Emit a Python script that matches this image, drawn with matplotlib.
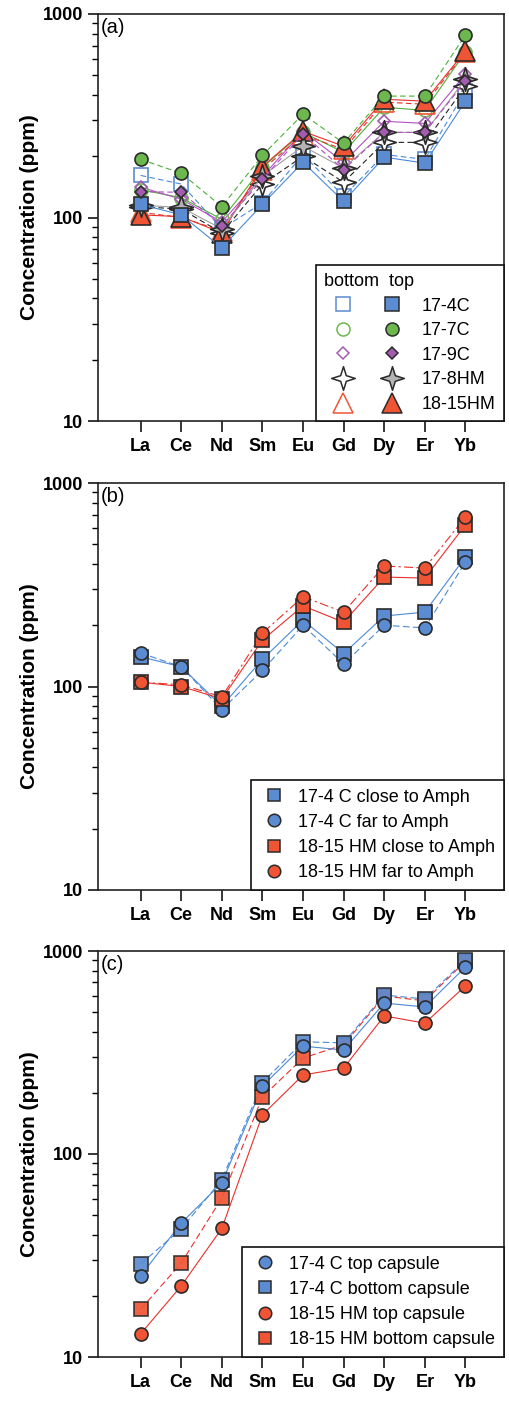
import matplotlib
matplotlib.use("Agg")
import matplotlib.pyplot as plt
from matplotlib.path import Path
from matplotlib.lines import Line2D
from matplotlib.legend_handler import HandlerTuple
from matplotlib.ticker import LogLocator, NullFormatter, FixedLocator, FuncFormatter

plt.rcParams["font.family"] = ["Liberation Sans", "DejaVu Sans"]

elements = ["La", "Ce", "Nd", "Sm", "Eu", "Gd", "Dy", "Er", "Yb"]

# ---- panel (a): bottom vs top of capsule for each run ----
c17_4_bottom = [161, 146, 88, 118, 204, 127, 204, 193, 418]
c17_4_top = [116, 103, 71, 116, 187, 120, 198, 185, 373]
c17_7_bottom = [137, 125, 98, 176, 262, 209, 348, 336, 650]
c17_7_top = [193, 165, 113, 202, 322, 232, 395, 395, 788]
c17_9_bottom = [141, 123, 95, 159, 265, 187, 297, 290, 506]
c17_9_top = [134, 133, 91, 154, 257, 172, 262, 262, 468]
hm17_8_bottom = [113, 110, 84, 146, 200, 149, 234, 234, 441]
hm17_8_top = [115, 112, 88, 160, 224, 175, 262, 262, 478]
hm18_15_bottom = [106, 100, 86, 172, 255, 216, 369, 360, 650]
hm18_15_top = [103, 101, 84, 178, 265, 224, 381, 373, 658]
runs_a = ["17-4C", "17-7C", "17-9C", "17-8HM", "18-15HM"]

# ---- panel (b): distance to amphibole ----
c17_4_close = [140, 125, 80, 136, 212, 145, 222, 232, 433]
c17_4_far = [146, 125, 77, 120, 200, 129, 200, 194, 409]
hm18_15_close = [105, 100, 87, 169, 249, 207, 345, 341, 622]
hm18_15_far = [105, 102, 89, 183, 276, 232, 391, 382, 681]
labels_b = ["17-4 C close to Amph", "17-4 C far to Amph",
            "18-15 HM close to Amph", "18-15 HM far to Amph"]

# ---- panel (c): top vs bottom capsule ----
c17_4_top_caps = [25.1, 45.7, 72, 216, 340, 325, 554, 530, 834]
c17_4_bottom_caps = [28.7, 42.8, 74.5, 225, 357, 353, 607, 580, 903]
hm18_15_top_caps = [13.0, 22.4, 43, 156, 245, 265, 479, 441, 673]
hm18_15_bottom_caps = [17.2, 29.0, 60.7, 191, 297, 345, 600, 568, 890]
labels_c = ["17-4 C top capsule", "17-4 C bottom capsule",
            "18-15 HM top capsule", "18-15 HM bottom capsule"]

# colours
BLUE = "#5b8bd0"
BLUE_L = "#4a8ad8"
GREEN = "#6cb84e"
GREEN_L = "#4db03c"
PURPLE = "#a45cb0"
PURPLE_L = "#b24fc4"
GREY = "#b4b4b4"
RED = "#ef5535"
RED_L = "#e8302a"
EDGE = "#2b2b2b"

# four-pointed star with concave sides
_r = 0.24
_star_pts = [(0, 1), (_r, _r), (1, 0), (_r, -_r), (0, -1), (-_r, -_r), (-1, 0), (-_r, _r), (0, 1)]
STAR = Path(_star_pts, closed=True)

FS = 13
x = list(range(len(elements)))


def style_axes(ax, tag):
    ax.set_yscale("log")
    ax.set_ylim(10, 1000)
    ax.set_xlim(-1.05, 8.95)
    ax.xaxis.set_major_locator(FixedLocator(x))
    ax.set_xticklabels(elements, fontsize=FS, fontweight="bold")
    ax.yaxis.set_major_locator(FixedLocator([10, 100, 1000]))
    ax.yaxis.set_major_formatter(FuncFormatter(lambda v, p: f"{int(round(v))}"))
    ax.yaxis.set_minor_locator(LogLocator(base=10, subs=range(2, 10)))
    ax.yaxis.set_minor_formatter(NullFormatter())
    for lab in ax.get_yticklabels():
        lab.set_fontweight("bold")
        lab.set_fontsize(FS)
    ax.tick_params(axis="x", which="major", length=8, width=1.1, pad=4, direction="out")
    ax.tick_params(axis="y", which="major", length=7.5, width=1.1, pad=3, direction="out")
    ax.tick_params(axis="y", which="minor", length=4, width=1.0, direction="out")
    for s in ax.spines.values():
        s.set_linewidth(1.2)
        s.set_color("#222222")
    ax.set_ylabel("Concentration (ppm)", fontsize=15, fontweight="bold")
    ax.yaxis.set_label_coords(-0.145, 0.5)
    ax.text(0.006, 0.99, tag, transform=ax.transAxes, fontsize=14.5, ha="left", va="top")


def legend_box(leg):
    fr = leg.get_frame()
    fr.set_edgecolor("#111111")
    fr.set_linewidth(1.2)
    fr.set_boxstyle("square", pad=0)
    fr.set_alpha(1)


fig = plt.figure(figsize=(5.1, 14.02), dpi=100)
H = 1402.0
W = 510.0
left = 98 / W
width = (504 - 98) / W


def axes_at(top_px, bottom_px):
    return fig.add_axes([left, 1 - bottom_px / H, width, (bottom_px - top_px) / H])


# ======================= (a) =======================
ax = axes_at(14, 421)
style_axes(ax, "(a)")
lw = 0.8
mew = 1.2

series_a = [
    # values, marker, size, face, edge, line colour, linestyle, zorder
    (c17_4_bottom, "s", 9.4, "none", BLUE, BLUE_L, (0, (5, 3)), 3),
    (c17_7_bottom, "o", 9.4, "none", GREEN, GREEN_L, "-", 3),
    (c17_9_bottom, "D", 6.6, "none", PURPLE, PURPLE_L, "-", 3),
    (hm17_8_bottom, STAR, 17, "white", EDGE, "#222222", (0, (5, 3)), 4),
    (hm18_15_bottom, "^", 15, "none", RED, RED_L, (0, (5, 3)), 3),
    (hm18_15_top, "^", 15, RED, EDGE, RED_L, "-", 5),
    (hm17_8_top, STAR, 17, GREY, EDGE, "#a0a0a0", "-", 5),
    (c17_4_top, "s", 9.4, BLUE, EDGE, BLUE_L, "-", 6),
    (c17_7_top, "o", 9.4, GREEN, EDGE, GREEN_L, (0, (5, 3)), 6),
    (c17_9_top, "D", 6.6, PURPLE, EDGE, PURPLE_L, (0, (5, 3)), 7),
]
for vals, mk, ms, fc, ec, lc, ls, z in series_a:
    ax.plot(x, vals, color=lc, lw=lw, ls=ls, zorder=z)
    ax.plot(x, vals, ls="none", marker=mk, ms=ms, mfc=fc, mec=ec, mew=mew, zorder=z + 0.5)

open_specs = [("s", 9.4, BLUE), ("o", 9.4, GREEN), ("D", 6.6, PURPLE), (STAR, 17, EDGE), ("^", 15, RED)]
fill_specs = [("s", 9.4, BLUE), ("o", 9.4, GREEN), ("D", 6.6, PURPLE), (STAR, 17, GREY), ("^", 15, RED)]
handles = []
for (mo, so, co), (mf, sf, cf) in zip(open_specs, fill_specs):
    h_open = Line2D([], [], ls="none", marker=mo, ms=so,
                    mfc="white" if mo is STAR else "none", mec=co, mew=1.1)
    h_fill = Line2D([], [], ls="none", marker=mf, ms=sf, mfc=cf, mec=EDGE, mew=1.1)
    handles.append((h_open, h_fill))
leg = ax.legend(handles, runs_a, handler_map={tuple: HandlerTuple(ndivide=None, pad=0.6)},
                loc="lower right", borderaxespad=0, fontsize=FS, title="bottom  top",
                title_fontsize=FS, alignment="left", handlelength=4.8, handletextpad=0.6,
                labelspacing=0.42, borderpad=0.45, framealpha=1, fancybox=False)
legend_box(leg)

# ======================= (b) =======================
ax = axes_at(483, 890)
style_axes(ax, "(b)")
series_b = [
    (c17_4_close, "s", BLUE, BLUE_L, "-"),
    (c17_4_far, "o", BLUE, BLUE_L, (0, (6, 3))),
    (hm18_15_close, "s", RED, RED_L, "-"),
    (hm18_15_far, "o", RED, RED_L, (0, (8, 3, 2, 3))),
]
hb = []
for (vals, mk, fc, lc, ls), lab in zip(series_b, labels_b):
    ax.plot(x, vals, color=lc, lw=lw, ls=ls, zorder=3)
    ax.plot(x, vals, ls="none", marker=mk, ms=9.4, mfc=fc, mec=EDGE, mew=mew, zorder=4)
    hb.append(Line2D([], [], ls="none", marker=mk, ms=9.0, mfc=fc, mec=EDGE, mew=1.1, label=lab))
leg = ax.legend(handles=hb, loc="lower right", borderaxespad=0, fontsize=FS,
                handlelength=1.5, handletextpad=0.6, labelspacing=0.45, borderpad=0.5,
                framealpha=1, fancybox=False)
legend_box(leg)

# ======================= (c) =======================
ax = axes_at(951, 1357)
style_axes(ax, "(c)")
series_c = [
    (c17_4_top_caps, "o", BLUE, BLUE_L, "-"),
    (c17_4_bottom_caps, "s", BLUE, BLUE_L, (0, (6, 3))),
    (hm18_15_top_caps, "o", RED, RED_L, "-"),
    (hm18_15_bottom_caps, "s", RED, RED_L, (0, (6, 3))),
]
hc = []
order = [3, 1, 2, 0]
for i in order:
    vals, mk, fc, lc, ls = series_c[i]
    ax.plot(x, vals, color=lc, lw=lw, ls=ls, zorder=3)
    ax.plot(x, vals, ls="none", marker=mk, ms=9.4, mfc=fc, mec=EDGE, mew=mew, zorder=4,
            alpha=0.92 if mk == "s" else 1)
for (vals, mk, fc, lc, ls), lab in zip(series_c, labels_c):
    hc.append(Line2D([], [], ls="none", marker=mk, ms=9.0, mfc=fc, mec=EDGE, mew=1.1, label=lab))
leg = ax.legend(handles=hc, loc="lower right", borderaxespad=0, fontsize=FS,
                handlelength=1.5, handletextpad=0.6, labelspacing=0.45, borderpad=0.5,
                framealpha=1, fancybox=False)
legend_box(leg)

fig.savefig("out.png", dpi=100)
